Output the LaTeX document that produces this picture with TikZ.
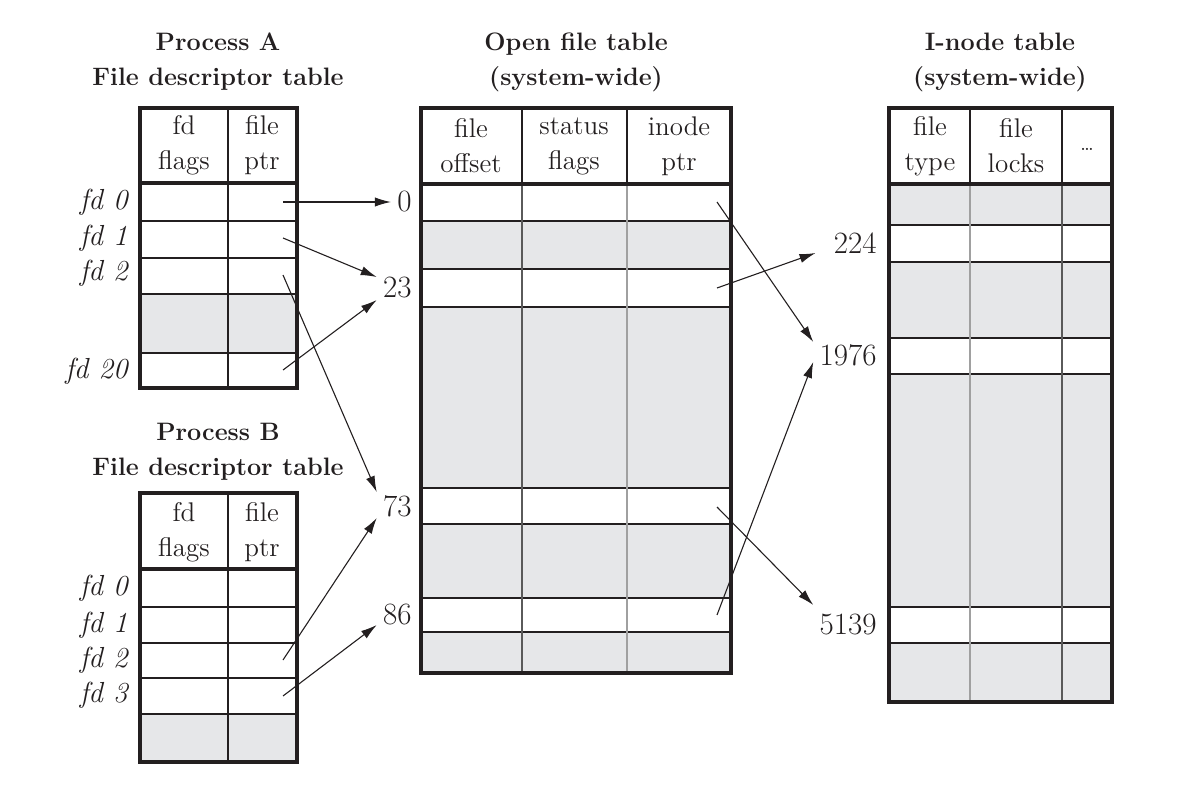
\documentclass[tikz,border=0pt]{standalone}
\usepackage{fontspec}
\usepackage{tikz}
\usetikzlibrary{arrows.meta}
\definecolor{TabInk}{HTML}{231F20}
\definecolor{TabGray}{HTML}{E6E7E9}
\definecolor{RuleDark}{HTML}{5A5A5A}
\definecolor{RuleLight}{HTML}{A0A0A0}

\begin{document}
\begin{tikzpicture}[x=0.5pt, y=-0.5pt, text=TabInk,
  title/.style={font=\fontsize{12.6}{17.5}\selectfont\bfseries, align=center, inner sep=0pt},
  head/.style={font=\fontsize{13.5}{17.5}\selectfont, align=center, inner sep=0pt},
  fdlab/.style={font=\fontsize{14.5}{17.5}\selectfont\itshape, anchor=east, inner sep=1pt},
  idx/.style={font=\fontsize{15.5}{18}\selectfont, anchor=east, inner sep=3pt},
  shade/.style={fill=TabGray},
  rule/.style={draw=TabInk, line width=0.6pt},
  frame/.style={draw=TabInk, line width=1.8pt},
  ptr/.style={draw=TabInk, line width=0.55pt, -{Latex[length=8pt,width=4.6pt]}}]
\useasboundingbox (0,0) rectangle (1189,791);
%% titles
\node[title] (titleA)  at (218,62)  {Process A\\File descriptor table};
\node[title] (titleB)  at (218,452) {Process B\\File descriptor table};
\node[title] (titleOF) at (576,62)  {Open file table\\(system-wide)};
\node[title] (titleIN) at (1000,62) {I-node table\\(system-wide)};
%% process A descriptor table
\fill[shade] (140,294) rectangle (297,353);
\foreach \y in {221,258,294,353} \draw[rule] (140,\y) -- (297,\y);
\draw[rule] (228,108) -- (228,388);
\draw[frame] (140,183) -- (297,183);
\draw[frame] (140,108) rectangle (297,388);
\node[head] (hA1) at (184,145) {fd\\flags};
\node[head] (hA2) at (262,145) {file\\ptr};
\foreach \n/\y/\l in {A0/202/0, A1/238/1, A2/273/2, A20/371/20}
  \node[fdlab] (fd\n) at (130,\y) {fd \l};
%% process B descriptor table
\fill[shade] (140,714) rectangle (297,762);
\foreach \y in {607,643,678,714} \draw[rule] (140,\y) -- (297,\y);
\draw[rule] (228,493) -- (228,762);
\draw[frame] (140,569) -- (297,569);
\draw[frame] (140,493) rectangle (297,762);
\node[head] (hB1) at (184,532) {fd\\flags};
\node[head] (hB2) at (262,532) {file\\ptr};
\foreach \n/\y/\l in {B0/588/0, B1/625/1, B2/660/2, B3/695/3}
  \node[fdlab] (fd\n) at (130,\y) {fd \l};
%% open file table
\foreach \t/\b in {221/269, 307/488, 524/598, 632/673}
  \fill[shade] (421,\t) rectangle (731,\b);
\foreach \y in {221,269,307,488,524,598,632} \draw[rule] (421,\y) -- (731,\y);
\draw[rule] (522,108) -- (522,184);
\draw[rule] (627,108) -- (627,184);
\draw[rule, draw=RuleDark] (522,184) -- (522,673);
\draw[rule, draw=RuleLight, line width=1pt] (627,184) -- (627,673);
\draw[frame] (421,184) -- (731,184);
\draw[frame] (421,108) rectangle (731,673);
\node[head] (hOF1) at (471,146) {file\\offset};
\node[head] (hOF2) at (574,146) {status\\flags};
\node[head] (hOF3) at (679,146) {inode\\ptr};
\foreach \n/\y in {0/202, 23/288, 73/506, 86/615}
  \node[idx] (of\n) at (418,\y) {\n};
%% i-node table
\foreach \t/\b in {184/225, 262/338, 374/607, 643/702}
  \fill[shade] (889,\t) rectangle (1112,\b);
\foreach \y in {225,262,338,374,607,643} \draw[rule] (889,\y) -- (1112,\y);
\draw[rule] (970,108) -- (970,184);
\draw[rule] (1062,108) -- (1062,184);
\draw[rule, draw=RuleLight, line width=1pt] (970,184) -- (970,702);
\draw[rule, draw=RuleDark] (1062,184) -- (1062,702);
\draw[frame] (889,184) -- (1112,184);
\draw[frame] (889,108) rectangle (1112,702);
\node[head] (hIN1) at (930,146)  {file\\type};
\node[head] (hIN2) at (1016,146) {file\\locks};
\node[head, font=\fontsize{10}{10}\selectfont] (hIN3) at (1087,149) {\dots};
\foreach \n/\y in {224/243, 1976/355, 5139/624}
  \node[idx] (in\n) at (883,\y) {\n};
%% pointer starts
\foreach \n/\x/\y in {pA0/283/202, pA1/283/238, pA2/283/275, pA20/283/370,
                      pB2/283/660, pB3/283/696,
                      ip0/717/202, ip23/717/288, ip73/717/507, ip86/717/615}
  \coordinate (\n) at (\x,\y);
%% descriptors -> open files
\draw[ptr] (pA0)  -- (of0.west);
\draw[ptr] (pA1)  -- ([yshift=5.5pt]of23.west);
\draw[ptr] (pA20) -- ([yshift=-6pt]of23.west);
\draw[ptr] (pA2)  -- ([yshift=7pt]of73.west);
\draw[ptr] (pB2)  -- ([yshift=-6pt]of73.west);
\draw[ptr] (pB3)  -- ([yshift=-5pt]of86.west);
%% open files -> i-nodes
\draw[ptr] (ip0)  -- ([yshift=6.5pt]in1976.west);
\draw[ptr] (ip23) -- ([xshift=-6pt,yshift=-5pt]in224.west);
\draw[ptr] (ip73) -- ([yshift=9.5pt]in5139.west);
\draw[ptr] (ip86) -- ([yshift=-3.5pt]in1976.west);
\end{tikzpicture}
\end{document}
